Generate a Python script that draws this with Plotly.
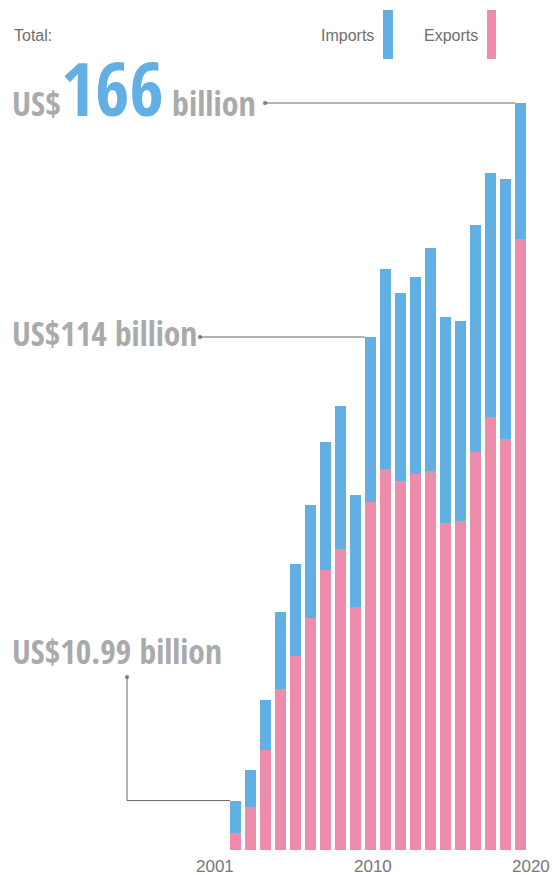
import plotly.graph_objects as go

years = list(range(2001, 2021))
totals = [10.99, 17.8, 33.3, 52.9, 63.6, 76.7, 90.7, 98.7, 78.9, 114.0,
          129.1, 123.8, 127.3, 133.8, 118.4, 117.6, 138.9, 150.4, 149.1, 166.0]
exports = [3.7, 9.5, 22.2, 35.8, 43.2, 51.6, 62.2, 66.9, 54.0, 77.4,
           84.7, 82.0, 83.6, 84.2, 72.7, 73.1, 88.5, 96.3, 91.3, 135.8]
imports = [round(t - e, 2) for t, e in zip(totals, exports)]
tick_years = [2001, 2010, 2020]
tick_shift = [-21, 2, 10]

BLUE = "#62B0E3"
PINK = "#EE8CAB"
GRAY = "#A9ABAB"
DARK = "#6E6E6E"
W, H = 552, 875
BW = 0.733
X0 = 1985.3
COND = "Open Sans Condensed, Roboto Condensed, sans-serif"
SANS = "Liberation Sans, Helvetica, Arial, sans-serif"

fig = go.Figure()
fig.add_bar(x=years, y=exports, name="Exports", marker_color=PINK, width=BW,
            marker_line_width=0, hoverinfo="skip")
fig.add_bar(x=years, y=imports, name="Imports", marker_color=BLUE, width=BW,
            marker_line_width=0, hoverinfo="skip")


def leader(xs, ys):
    fig.add_scatter(x=xs, y=ys, mode="lines+markers", line=dict(color="#666", width=1),
                    marker=dict(size=[3.5] + [0] * (len(xs) - 1), color="#555"),
                    hoverinfo="skip", showlegend=False)


i20 = years.index(2020)
i10 = years.index(2010)
i01 = years.index(2001)
leader([X0 + 265 / 15, 2020 - BW / 2], [totals[i20], totals[i20]])
leader([X0 + 200 / 15, 2010 - BW / 2], [totals[i10], totals[i10]])
leader([X0 + 127 / 15, X0 + 127 / 15, 2001 - BW / 2],
       [(850 - 677) / 4.5, totals[i01], totals[i01]])

ann = []
for txt, x, anc in [("Total:", 12, "left"), ("Imports", 376, "right"), ("Exports", 480, "right")]:
    ann.append(dict(text=txt, x=x / W, y=1 - 35 / H, xref="paper", yref="paper",
                    xanchor=anc, yanchor="middle", showarrow=False,
                    font=dict(family=SANS, size=16, color=DARK)))
ann.append(dict(text="<b>US$<span style='font-size:74px;color:%s'>%d</span> billion</b>"
                % (BLUE, round(totals[i20])),
                x=10 / W, y=1 - 87 / H, xref="paper", yref="paper",
                xanchor="left", yanchor="middle", showarrow=False,
                font=dict(family=COND, size=34, color=GRAY)))
ann.append(dict(text="<b>US$%d billion</b>" % round(totals[i10]),
                x=10 / W, y=1 - 333 / H, xref="paper", yref="paper",
                xanchor="left", yanchor="middle", showarrow=False,
                font=dict(family=COND, size=33.5, color=GRAY)))
ann.append(dict(text="<b>US$%.2f billion</b>" % totals[i01],
                x=10 / W, y=1 - 651 / H, xref="paper", yref="paper",
                xanchor="left", yanchor="middle", showarrow=False,
                font=dict(family=COND, size=33.5, color=GRAY)))
for yv, sh in zip(tick_years, tick_shift):
    ann.append(dict(text=str(yv), x=yv, y=1 - 866 / H, xref="x", yref="paper",
                    xshift=sh, xanchor="center", yanchor="middle", showarrow=False,
                    font=dict(family=SANS, size=17, color="#777")))

shapes = [
    dict(type="rect", xref="paper", yref="paper", x0=383 / W, x1=393 / W,
         y0=1 - 59 / H, y1=1 - 10 / H, fillcolor=BLUE, line_width=0),
    dict(type="rect", xref="paper", yref="paper", x0=487 / W, x1=496 / W,
         y0=1 - 59 / H, y1=1 - 10 / H, fillcolor=PINK, line_width=0),
]

fig.update_layout(
    width=W, height=H, margin=dict(l=0, r=0, t=0, b=0),
    barmode="stack", bargap=0, showlegend=False,
    plot_bgcolor="white", paper_bgcolor="white",
    xaxis=dict(visible=False, range=[X0, X0 + W / 15]),
    yaxis=dict(visible=False, range=[-25 / 4.5, 850 / 4.5]),
    annotations=ann, shapes=shapes,
)
fig.write_html("out.html", config={"displayModeBar": False},
               post_script="document.body.style.margin='0';")
